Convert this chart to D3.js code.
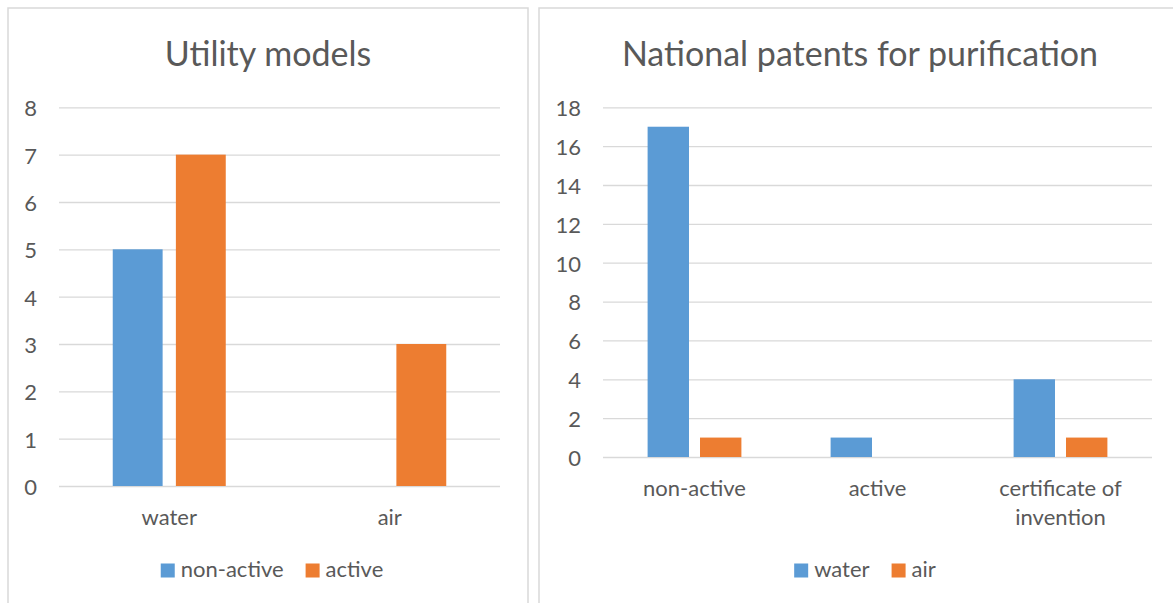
<!DOCTYPE html>
<html>
<head>
<meta charset="utf-8">
<script src="https://cdn.jsdelivr.net/npm/d3@7/dist/d3.min.js"></script>
<style>
  html, body { margin: 0; padding: 0; background: #ffffff; }
  svg { display: block; font-family: Lato, "Open Sans", sans-serif; }
</style>
</head>
<body>
<svg id="chart" width="1173" height="603"></svg>
<script>
// ---- Data: Utility models ----
const umTitle = "Utility models";
const umCategories = ["water", "air"];
const umSeries = ["non-active", "active"];
const umNonActive = [5, 0];
const umActive = [7, 3];
const umTicks = [0, 1, 2, 3, 4, 5, 6, 7, 8];

// ---- Data: National patents for purification ----
const npTitle = "National patents for purification";
const npCategories = ["non-active", "active", "certificate of\ninvention"];
const npSeries = ["water", "air"];
const npWater = [17, 1, 4];
const npAir = [1, 0, 1];
const npTicks = [0, 2, 4, 6, 8, 10, 12, 14, 16, 18];

const seriesColors = ["#5B9BD5", "#ED7D31"];
const textColor = "#595959";
const gridColor = "#D9D9D9";

const svg = d3.select("#chart");

function drawPanel(cfg) {
  const g = svg.append("g");
  // panel border
  g.append("rect")
    .attr("x", cfg.panel[0]).attr("y", cfg.panel[1])
    .attr("width", cfg.panel[2]).attr("height", cfg.panel[3])
    .attr("fill", "#fff").attr("stroke", gridColor).attr("stroke-width", 1.5);

  const cx = cfg.panel[0] + cfg.panel[2] / 2;
  // title
  g.append("text")
    .attr("x", cx).attr("y", cfg.titleY)
    .attr("text-anchor", "middle")
    .attr("font-size", 34).attr("fill", textColor)
    .text(cfg.title);

  const y = d3.scaleLinear().domain([0, d3.max(cfg.ticks)]).range([cfg.plot.y0, cfg.plot.y1]);
  const x0 = d3.scaleBand().domain(cfg.categories)
    .range([cfg.plot.x0, cfg.plot.x1]).paddingInner(0.4875).paddingOuter(0.24375);
  const x1 = d3.scaleBand().domain(cfg.series)
    .range([0, x0.bandwidth()]).paddingInner(0.21).paddingOuter(0);

  // y axis with gridlines
  const yAxis = d3.axisLeft(y).tickValues(cfg.ticks)
    .tickSize(-(cfg.plot.x1 - cfg.plot.x0)).tickPadding(22).tickFormat(d3.format("d"));
  const ya = g.append("g").attr("transform", `translate(${cfg.plot.x0},0)`).call(yAxis);
  ya.select(".domain").remove();
  ya.selectAll(".tick line").attr("stroke", gridColor).attr("stroke-width", 1.3);
  ya.selectAll(".tick text").attr("fill", textColor).attr("font-size", 22)
    .attr("font-family", "Lato, sans-serif").attr("dy", "0.38em");

  // bars
  const rows = cfg.categories.map((c, i) => ({
    cat: c,
    vals: cfg.series.map((s, j) => ({ s, j, v: cfg.values[j][i] }))
  }));
  const grp = g.append("g").selectAll("g").data(rows).join("g")
    .attr("transform", d => `translate(${x0(d.cat)},0)`);
  grp.selectAll("rect").data(d => d.vals.filter(v => v.v > 0)).join("rect")
    .attr("x", d => x1(d.s))
    .attr("width", x1.bandwidth())
    .attr("y", d => y(d.v))
    .attr("height", d => y(0) - y(d.v))
    .attr("fill", d => seriesColors[d.j]);

  // category labels
  const cl = g.append("g").selectAll("text").data(cfg.categories).join("text")
    .attr("x", d => x0(d) + x0.bandwidth() / 2)
    .attr("y", cfg.plot.y0 + 39)
    .attr("text-anchor", "middle")
    .attr("font-size", 22).attr("fill", textColor);
  cl.each(function (d) {
    const lines = d.split("\n");
    const t = d3.select(this);
    lines.forEach((ln, k) => {
      t.append("tspan").attr("x", x0(d) + x0.bandwidth() / 2)
        .attr("dy", k === 0 ? 0 : 28.5).text(ln);
    });
  });

  // legend
  const lg = g.append("g");
  const items = cfg.series.map((s, j) => {
    const it = lg.append("g");
    it.append("rect").attr("width", 14).attr("height", 14).attr("y", -13.5).attr("fill", seriesColors[j]);
    const tx = it.append("text").attr("x", 20).attr("y", 0)
      .attr("font-size", 22).attr("fill", textColor).text(s);
    return { it, w: 20 + tx.node().getComputedTextLength() };
  });
  const gap = 22;
  const total = d3.sum(items, d => d.w) + gap * (items.length - 1);
  let xx = cx + cfg.legendShift - total / 2;
  items.forEach(d => {
    d.it.attr("transform", `translate(${xx},${cfg.legendY})`);
    xx += d.w + gap;
  });
}

drawPanel({
  panel: [8, 8, 520, 640],
  title: umTitle, titleY: 66,
  categories: umCategories, series: umSeries,
  values: [umNonActive, umActive], ticks: umTicks,
  plot: { x0: 59, x1: 500, y0: 486, y1: 107.3 },
  legendY: 577, legendShift: 4
});

drawPanel({
  panel: [539, 8, 642, 640],
  title: npTitle, titleY: 66,
  categories: npCategories, series: npSeries,
  values: [npWater, npAir], ticks: npTicks,
  plot: { x0: 603, x1: 1152, y0: 457, y1: 107.3 },
  legendY: 577, legendShift: 5
});
</script>
</body>
</html>
